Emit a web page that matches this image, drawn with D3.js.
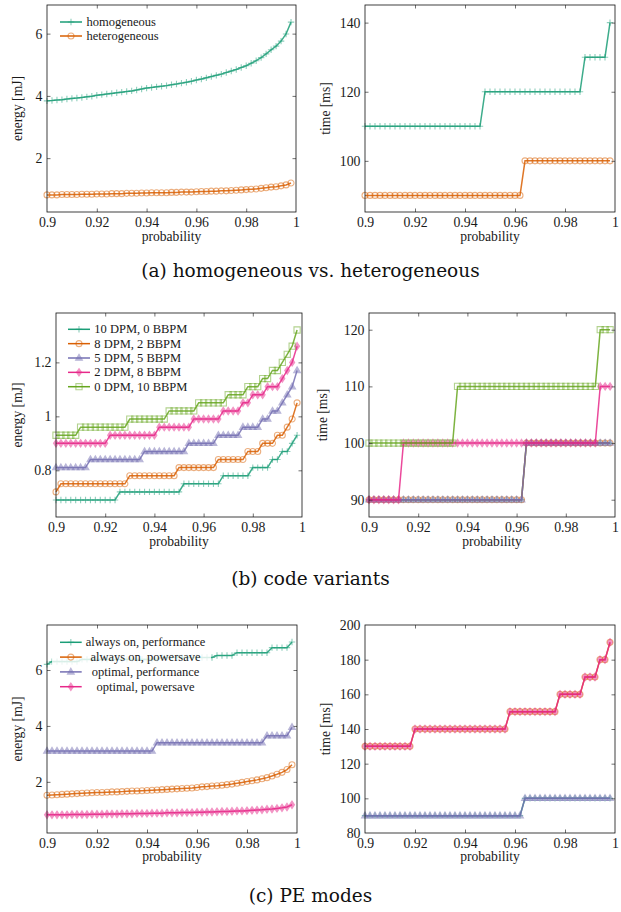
<!DOCTYPE html>
<html>
<head>
<meta charset="utf-8">
<script src="https://cdn.jsdelivr.net/npm/d3@7"></script>
<style>
  body { margin: 0; background: #fff; }
  svg { display: block; }
  text { font-family: "Liberation Serif", serif; fill: #1a1a1a; }
  .caption { font-family: "DejaVu Serif", serif; fill: #111; }
</style>
</head>
<body>
<div id="d3"></div>
<script>
// x values shared by every series
const probability = [
  0.900, 0.902, 0.904, 0.906, 0.908, 0.910, 0.912, 0.914, 0.916, 0.918,
  0.920, 0.922, 0.924, 0.926, 0.928, 0.930, 0.932, 0.934, 0.936, 0.938,
  0.940, 0.942, 0.944, 0.946, 0.948, 0.950, 0.952, 0.954, 0.956, 0.958,
  0.960, 0.962, 0.964, 0.966, 0.968, 0.970, 0.972, 0.974, 0.976, 0.978,
  0.980, 0.982, 0.984, 0.986, 0.988, 0.990, 0.992, 0.994, 0.996, 0.998
];
const xTicks = [0.9, 0.92, 0.94, 0.96, 0.98, 1];
const xTickLabels = ["0.9", "0.92", "0.94", "0.96", "0.98", "1"];

// (a) homogeneous vs. heterogeneous
const energyHomogeneous = [
  3.84, 3.85, 3.87, 3.88, 3.90, 3.92, 3.93, 3.95, 3.97, 3.99,
  4.02, 4.04, 4.06, 4.08, 4.10, 4.12, 4.14, 4.16, 4.19, 4.22,
  4.25, 4.27, 4.29, 4.31, 4.33, 4.36, 4.38, 4.41, 4.44, 4.47,
  4.51, 4.54, 4.58, 4.62, 4.66, 4.70, 4.75, 4.80, 4.85, 4.91,
  4.97, 5.05, 5.13, 5.23, 5.35, 5.48, 5.60, 5.76, 5.99, 6.37
];
const energyHeterogeneous = [
  0.82, 0.82, 0.82, 0.83, 0.83, 0.83, 0.83, 0.84, 0.84, 0.84,
  0.85, 0.85, 0.85, 0.86, 0.86, 0.86, 0.87, 0.87, 0.87, 0.88,
  0.88, 0.89, 0.89, 0.89, 0.89, 0.90, 0.90, 0.91, 0.91, 0.91,
  0.92, 0.93, 0.93, 0.94, 0.94, 0.95, 0.95, 0.96, 0.97, 0.98,
  0.99, 1.00, 1.01, 1.03, 1.05, 1.07, 1.08, 1.11, 1.14, 1.20
];
const timeHomogeneous = [
  110, 110, 110, 110, 110, 110, 110, 110, 110, 110,
  110, 110, 110, 110, 110, 110, 110, 110, 110, 110,
  110, 110, 110, 110, 120, 120, 120, 120, 120, 120,
  120, 120, 120, 120, 120, 120, 120, 120, 120, 120,
  120, 120, 120, 120, 130, 130, 130, 130, 130, 140
];
const timeHeterogeneous = [
  90, 90, 90, 90, 90, 90, 90, 90, 90, 90,
  90, 90, 90, 90, 90, 90, 90, 90, 90, 90,
  90, 90, 90, 90, 90, 90, 90, 90, 90, 90,
  90, 90, 100, 100, 100, 100, 100, 100, 100, 100,
  100, 100, 100, 100, 100, 100, 100, 100, 100, 100
];

// (b) code variants
const variantNames = ["10 DPM, 0 BBPM", "8 DPM, 2 BBPM", "5 DPM, 5 BBPM", "2 DPM, 8 BBPM", "0 DPM, 10 BBPM"];
const energy10dpm = [
  0.69, 0.69, 0.69, 0.69, 0.69, 0.69, 0.69, 0.69, 0.69, 0.69,
  0.69, 0.69, 0.69, 0.72, 0.72, 0.72, 0.72, 0.72, 0.72, 0.72,
  0.72, 0.72, 0.72, 0.72, 0.72, 0.72, 0.75, 0.75, 0.75, 0.75,
  0.75, 0.75, 0.75, 0.75, 0.78, 0.78, 0.78, 0.78, 0.78, 0.78,
  0.81, 0.81, 0.81, 0.81, 0.84, 0.84, 0.87, 0.87, 0.90, 0.93
];
const energy8dpm = [
  0.72, 0.75, 0.75, 0.75, 0.75, 0.75, 0.75, 0.75, 0.75, 0.75,
  0.75, 0.75, 0.75, 0.75, 0.75, 0.78, 0.78, 0.78, 0.78, 0.78,
  0.78, 0.78, 0.78, 0.78, 0.78, 0.81, 0.81, 0.81, 0.81, 0.81,
  0.81, 0.81, 0.81, 0.84, 0.84, 0.84, 0.84, 0.84, 0.84, 0.87,
  0.87, 0.87, 0.90, 0.90, 0.90, 0.93, 0.93, 0.96, 0.99, 1.05
];
const energy5dpm = [
  0.81, 0.81, 0.81, 0.81, 0.81, 0.81, 0.81, 0.84, 0.84, 0.84,
  0.84, 0.84, 0.84, 0.84, 0.84, 0.84, 0.84, 0.84, 0.87, 0.87,
  0.87, 0.87, 0.87, 0.87, 0.87, 0.87, 0.87, 0.90, 0.90, 0.90,
  0.90, 0.90, 0.90, 0.93, 0.93, 0.93, 0.93, 0.93, 0.96, 0.96,
  0.96, 0.96, 0.99, 0.99, 1.02, 1.02, 1.05, 1.08, 1.11, 1.17
];
const energy2dpm = [
  0.90, 0.90, 0.90, 0.90, 0.90, 0.90, 0.90, 0.90, 0.90, 0.90,
  0.90, 0.93, 0.93, 0.93, 0.93, 0.93, 0.93, 0.93, 0.93, 0.93,
  0.93, 0.96, 0.96, 0.96, 0.96, 0.96, 0.96, 0.96, 0.99, 0.99,
  0.99, 0.99, 0.99, 0.99, 1.02, 1.02, 1.02, 1.02, 1.05, 1.05,
  1.08, 1.08, 1.08, 1.11, 1.11, 1.11, 1.14, 1.17, 1.20, 1.26
];
const energy0dpm = [
  0.93, 0.93, 0.93, 0.93, 0.93, 0.96, 0.96, 0.96, 0.96, 0.96,
  0.96, 0.96, 0.96, 0.96, 0.96, 0.99, 0.99, 0.99, 0.99, 0.99,
  0.99, 0.99, 0.99, 1.02, 1.02, 1.02, 1.02, 1.02, 1.02, 1.05,
  1.05, 1.05, 1.05, 1.05, 1.05, 1.08, 1.08, 1.08, 1.08, 1.11,
  1.11, 1.11, 1.14, 1.14, 1.17, 1.17, 1.20, 1.23, 1.26, 1.32
];
const time10dpm = [
  90, 90, 90, 90, 90, 90, 90, 90, 90, 90,
  90, 90, 90, 90, 90, 90, 90, 90, 90, 90,
  90, 90, 90, 90, 90, 90, 90, 90, 90, 90,
  90, 90, 100, 100, 100, 100, 100, 100, 100, 100,
  100, 100, 100, 100, 100, 100, 100, 100, 100, 100
];
const time8dpm = [
  90, 90, 90, 90, 90, 90, 90, 90, 90, 90,
  90, 90, 90, 90, 90, 90, 90, 90, 90, 90,
  90, 90, 90, 90, 90, 90, 90, 90, 90, 90,
  90, 90, 100, 100, 100, 100, 100, 100, 100, 100,
  100, 100, 100, 100, 100, 100, 100, 100, 100, 100
];
const time5dpm = [
  90, 90, 90, 90, 90, 90, 90, 90, 90, 90,
  90, 90, 90, 90, 90, 90, 90, 90, 90, 90,
  90, 90, 90, 90, 90, 90, 90, 90, 90, 90,
  90, 90, 100, 100, 100, 100, 100, 100, 100, 100,
  100, 100, 100, 100, 100, 100, 100, 100, 100, 100
];
const time2dpm = [
  90, 90, 90, 90, 90, 90, 90, 100, 100, 100,
  100, 100, 100, 100, 100, 100, 100, 100, 100, 100,
  100, 100, 100, 100, 100, 100, 100, 100, 100, 100,
  100, 100, 100, 100, 100, 100, 100, 100, 100, 100,
  100, 100, 100, 100, 100, 100, 100, 110, 110, 110
];
const time0dpm = [
  100, 100, 100, 100, 100, 100, 100, 100, 100, 100,
  100, 100, 100, 100, 100, 100, 100, 100, 110, 110,
  110, 110, 110, 110, 110, 110, 110, 110, 110, 110,
  110, 110, 110, 110, 110, 110, 110, 110, 110, 110,
  110, 110, 110, 110, 110, 110, 110, 120, 120, 120
];

// (c) PE modes
const modeNames = ["always on, performance", "always on, powersave", "optimal, performance", "optimal, powersave"];
const energyAlwaysPerf = [
  6.20, 6.30, 6.30, 6.30, 6.30, 6.30, 6.30, 6.38, 6.38, 6.38,
  6.38, 6.38, 6.38, 6.38, 6.38, 6.38, 6.38, 6.38, 6.38, 6.38,
  6.38, 6.38, 6.38, 6.45, 6.45, 6.45, 6.45, 6.45, 6.45, 6.45,
  6.45, 6.45, 6.45, 6.45, 6.52, 6.52, 6.52, 6.52, 6.62, 6.62,
  6.62, 6.62, 6.62, 6.62, 6.62, 6.80, 6.80, 6.80, 6.80, 7.00
];
const energyAlwaysSave = [
  1.52, 1.53, 1.54, 1.55, 1.56, 1.57, 1.58, 1.59, 1.60, 1.61,
  1.62, 1.62, 1.63, 1.64, 1.64, 1.65, 1.66, 1.67, 1.67, 1.68,
  1.69, 1.70, 1.71, 1.72, 1.73, 1.74, 1.75, 1.76, 1.77, 1.78,
  1.80, 1.82, 1.83, 1.85, 1.86, 1.88, 1.90, 1.92, 1.95, 1.98,
  2.01, 2.04, 2.07, 2.11, 2.15, 2.21, 2.27, 2.34, 2.44, 2.61
];
const energyOptimalPerf = [
  3.10, 3.10, 3.10, 3.10, 3.10, 3.10, 3.10, 3.10, 3.10, 3.10,
  3.10, 3.10, 3.10, 3.10, 3.10, 3.10, 3.10, 3.10, 3.10, 3.10,
  3.10, 3.10, 3.40, 3.40, 3.40, 3.40, 3.40, 3.40, 3.40, 3.40,
  3.40, 3.40, 3.40, 3.40, 3.40, 3.40, 3.40, 3.40, 3.40, 3.40,
  3.40, 3.40, 3.40, 3.40, 3.65, 3.65, 3.65, 3.65, 3.65, 3.95
];
const energyOptimalSave = [
  0.82, 0.82, 0.82, 0.82, 0.82, 0.83, 0.83, 0.83, 0.83, 0.84,
  0.84, 0.84, 0.85, 0.85, 0.85, 0.86, 0.86, 0.86, 0.87, 0.87,
  0.87, 0.88, 0.88, 0.88, 0.89, 0.89, 0.89, 0.90, 0.90, 0.90,
  0.91, 0.91, 0.92, 0.92, 0.93, 0.94, 0.94, 0.95, 0.96, 0.96,
  0.97, 0.98, 0.99, 1.00, 1.02, 1.03, 1.05, 1.07, 1.10, 1.18
];
const timeAlwaysPerf = [
  90, 90, 90, 90, 90, 90, 90, 90, 90, 90,
  90, 90, 90, 90, 90, 90, 90, 90, 90, 90,
  90, 90, 90, 90, 90, 90, 90, 90, 90, 90,
  90, 90, 100, 100, 100, 100, 100, 100, 100, 100,
  100, 100, 100, 100, 100, 100, 100, 100, 100, 100
];
const timeAlwaysSave = [
  130, 130, 130, 130, 130, 130, 130, 130, 130, 130,
  140, 140, 140, 140, 140, 140, 140, 140, 140, 140,
  140, 140, 140, 140, 140, 140, 140, 140, 140, 150,
  150, 150, 150, 150, 150, 150, 150, 150, 150, 160,
  160, 160, 160, 160, 170, 170, 170, 180, 180, 190
];
const timeOptimalPerf = [
  90, 90, 90, 90, 90, 90, 90, 90, 90, 90,
  90, 90, 90, 90, 90, 90, 90, 90, 90, 90,
  90, 90, 90, 90, 90, 90, 90, 90, 90, 90,
  90, 90, 100, 100, 100, 100, 100, 100, 100, 100,
  100, 100, 100, 100, 100, 100, 100, 100, 100, 100
];
const timeOptimalSave = [
  130, 130, 130, 130, 130, 130, 130, 130, 130, 130,
  140, 140, 140, 140, 140, 140, 140, 140, 140, 140,
  140, 140, 140, 140, 140, 140, 140, 140, 140, 150,
  150, 150, 150, 150, 150, 150, 150, 150, 150, 160,
  160, 160, 160, 160, 170, 170, 170, 180, 180, 190
];

const captions = ["(a) homogeneous vs. heterogeneous", "(b) code variants", "(c) PE modes"];

// Dark2 cycle: colour + mark
const styles = [
  { color: "#1b9e77", mark: "plus" },
  { color: "#d95f02", mark: "circle" },
  { color: "#7570b3", mark: "triangle" },
  { color: "#e7298a", mark: "diamond" },
  { color: "#66a61e", mark: "square" }
];

const width = 621;
const height = 912;

const svg = d3
  .select("#d3")
  .append("svg")
  .attr("width", width)
  .attr("height", height)
  .attr("viewBox", `0 0 ${width} ${height}`);

function markPath(kind, cx, cy) {
  if (kind === "plus") return `M${cx - 3.2},${cy}H${cx + 3.2}M${cx},${cy - 3.2}V${cy + 3.2}`;
  if (kind === "circle") return `M${cx + 3},${cy}A3,3 0 1,1 ${cx - 3},${cy}A3,3 0 1,1 ${cx + 3},${cy}Z`;
  if (kind === "triangle") return `M${cx},${cy - 3.7}L${cx + 3.4},${cy + 2.2}L${cx - 3.4},${cy + 2.2}Z`;
  if (kind === "diamond") return `M${cx},${cy - 3.7}L${cx + 2.5},${cy}L${cx},${cy + 3.7}L${cx - 2.5},${cy}Z`;
  return `M${cx - 3.1},${cy - 3.1}h6.2v6.2h-6.2Z`;
}
const filledMark = (kind) => kind === "triangle" || kind === "diamond";

function drawMark(g, kind, color, cx, cy) {
  g.append("path")
    .attr("d", markPath(kind, cx, cy))
    .attr("fill", filledMark(kind) ? color : "none")
    .attr("stroke", color)
    .attr("stroke-width", 1.1)
    .attr("opacity", 0.5);
}

function drawPanel(p) {
  const g = svg.append("g");
  const x = d3.scaleLinear().domain([0.9, 1]).range([p.left, p.right]);
  const y = d3.scaleLinear().domain(p.yDomain).range([p.bottom, p.top]);

  const line = d3
    .line()
    .x((d, i) => x(probability[i]))
    .y((d) => y(d));

  p.series.forEach((values, k) => {
    const st = styles[p.styleIdx[k]];
    const sg = g.append("g");
    sg.append("path")
      .attr("d", line(values))
      .attr("fill", "none")
      .attr("stroke", st.color)
      .attr("stroke-width", 1.5)
      .attr("stroke-opacity", 0.85);
    sg.selectAll("path.mk")
      .data(values)
      .join("path")
      .attr("class", "mk")
      .attr("d", (d, i) => markPath(st.mark, x(probability[i]), y(d)))
      .attr("fill", filledMark(st.mark) ? st.color : "none")
      .attr("stroke", st.color)
      .attr("stroke-width", 1.1)
      .attr("opacity", 0.5);
  });

  // axes, ticks pointing inwards on all four sides
  const bottom = g.append("g").attr("transform", `translate(0,${p.bottom})`)
    .call(d3.axisBottom(x).tickValues(xTicks).tickFormat((d, i) => xTickLabels[i]).tickSize(-3.5).tickPadding(5));
  const top = g.append("g").attr("transform", `translate(0,${p.top})`)
    .call(d3.axisTop(x).tickValues(xTicks).tickFormat("").tickSize(-3.5));
  const left = g.append("g").attr("transform", `translate(${p.left},0)`)
    .call(d3.axisLeft(y).tickValues(p.yTicks).tickFormat((d) => String(d)).tickSize(-3.5).tickPadding(4.5));
  const right = g.append("g").attr("transform", `translate(${p.right},0)`)
    .call(d3.axisRight(y).tickValues(p.yTicks).tickFormat("").tickSize(-3.5));
  [bottom, top, left, right].forEach((a) => {
    a.select(".domain").remove();
    a.selectAll("line").attr("stroke", "#333").attr("stroke-width", 0.7);
    a.selectAll("text").attr("font-family", "Liberation Serif").attr("font-size", 13.8).attr("fill", "#1a1a1a");
  });
  // hide ticks sitting on the frame corners
  [bottom, top].forEach((a) => a.selectAll(".tick line").filter((d) => d === 0.9 || d === 1).remove());
  [left, right].forEach((a) => a.selectAll(".tick line").filter((d) => y(d) >= p.bottom - 0.5 || y(d) <= p.top + 0.5).remove());

  g.append("rect")
    .attr("x", p.left)
    .attr("y", p.top)
    .attr("width", p.right - p.left)
    .attr("height", p.bottom - p.top)
    .attr("fill", "none")
    .attr("stroke", "#111")
    .attr("stroke-width", 0.8);

  g.append("text")
    .attr("x", (p.left + p.right) / 2)
    .attr("y", p.xLabelY)
    .attr("text-anchor", "middle")
    .attr("font-size", 13.6)
    .text("probability");

  g.append("text")
    .attr("transform", `translate(${p.yLabelX},${(p.top + p.bottom) / 2}) rotate(-90)`)
    .attr("text-anchor", "middle")
    .attr("dominant-baseline", "central")
    .attr("font-size", 13.6)
    .text(p.yLabel);

  if (p.legend) {
    const L = p.legend;
    const lg = g.append("g");
    lg.append("rect")
      .attr("x", L.box[0])
      .attr("y", L.box[1])
      .attr("width", L.box[2])
      .attr("height", L.box[3])
      .attr("fill", "#fff")
      .attr("fill-opacity", 0.82);
    L.names.forEach((name, k) => {
      const st = styles[p.styleIdx[k]];
      const cy = L.y0 + k * L.dy;
      lg.append("line")
        .attr("x1", L.x0)
        .attr("x2", L.x1)
        .attr("y1", cy)
        .attr("y2", cy)
        .attr("stroke", st.color)
        .attr("stroke-width", 1.5);
      drawMark(lg, st.mark, st.color, (L.x0 + L.x1) / 2, cy);
      lg.append("text")
        .attr("x", L.textX)
        .attr("y", cy)
        .attr("dy", "0.33em")
        .attr("text-anchor", L.anchor)
        .attr("font-size", 12.5)
        .text(name);
    });
  }
}

const panels = [
  {
    left: 47, right: 296, top: 5, bottom: 212,
    yDomain: [0.27, 6.92], yTicks: [2, 4, 6],
    yLabel: "energy [mJ]", yLabelX: 17, xLabelY: 241,
    series: [energyHomogeneous, energyHeterogeneous], styleIdx: [0, 1],
    legend: { names: ["homogeneous", "heterogeneous"], x0: 60, x1: 82, textX: 86.5, anchor: "start", y0: 22, dy: 14, box: [55, 13, 110, 31] }
  },
  {
    left: 365, right: 615, top: 5, bottom: 212,
    yDomain: [85.2, 145.1], yTicks: [100, 120, 140],
    yLabel: "time [ms]", yLabelX: 325, xLabelY: 241,
    series: [timeHomogeneous, timeHeterogeneous], styleIdx: [0, 1]
  },
  {
    left: 56, right: 302, top: 313, bottom: 517,
    yDomain: [0.627, 1.383], yTicks: [0.8, 1, 1.2],
    yLabel: "energy [mJ]", yLabelX: 17, xLabelY: 546,
    series: [energy10dpm, energy8dpm, energy5dpm, energy2dpm, energy0dpm], styleIdx: [0, 1, 2, 3, 4],
    legend: { names: variantNames, x0: 68, x1: 90, textX: 94.3, anchor: "start", y0: 329.3, dy: 14.35, box: [63, 320, 128, 74] }
  },
  {
    left: 369, right: 615, top: 313, bottom: 517,
    yDomain: [86.95, 122.95], yTicks: [90, 100, 110, 120],
    yLabel: "time [ms]", yLabelX: 322, xLabelY: 546,
    series: [time10dpm, time8dpm, time5dpm, time2dpm, time0dpm], styleIdx: [0, 1, 2, 3, 4]
  },
  {
    left: 47, right: 297, top: 625, bottom: 833,
    yDomain: [0.17, 7.61], yTicks: [2, 4, 6],
    yLabel: "energy [mJ]", yLabelX: 17, xLabelY: 861,
    series: [energyAlwaysPerf, energyAlwaysSave, energyOptimalPerf, energyOptimalSave], styleIdx: [0, 1, 2, 3],
    legend: { names: modeNames, x0: 60, x1: 81.7, textX: 145.5, anchor: "middle", y0: 642.3, dy: 14.8, box: [52, 633, 159, 62] }
  },
  {
    left: 365, right: 615, top: 625, bottom: 833,
    yDomain: [80, 200], yTicks: [80, 100, 120, 140, 160, 180, 200],
    yLabel: "time [ms]", yLabelX: 325, xLabelY: 861,
    series: [timeAlwaysPerf, timeAlwaysSave, timeOptimalPerf, timeOptimalSave], styleIdx: [0, 1, 2, 3]
  }
];

panels.forEach(drawPanel);

const captionY = [277, 585, 902];
captions.forEach((c, i) => {
  svg.append("text")
    .attr("class", "caption")
    .attr("x", 310.5)
    .attr("y", captionY[i])
    .attr("text-anchor", "middle")
    .attr("font-size", 18.5)
    .text(c);
});
</script>
</body>
</html>
